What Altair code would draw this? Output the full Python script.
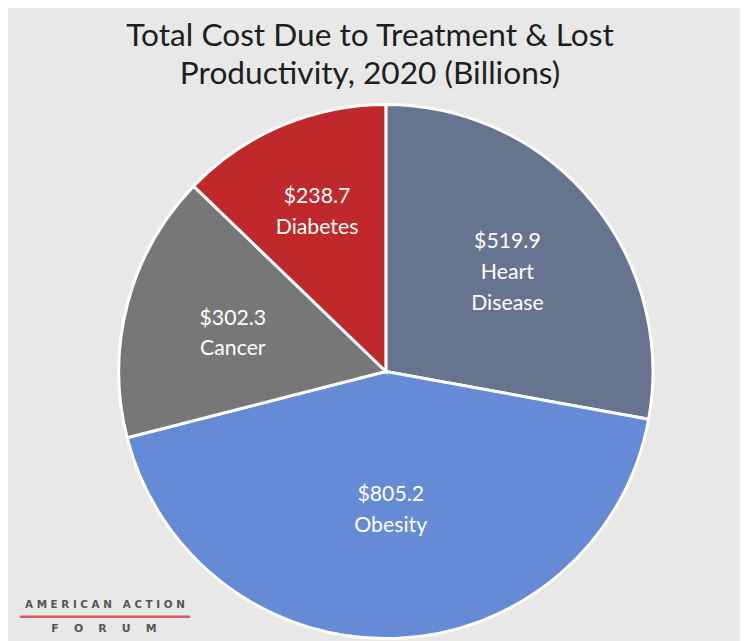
import altair as alt
import pandas as pd

categories = ["Heart Disease", "Obesity", "Cancer", "Diabetes"]
values = [519.9, 805.2, 302.3, 238.7]
label_names = ["Heart\nDisease", "Obesity", "Cancer", "Diabetes"]
colors = ["#67748f", "#658ad6", "#777777", "#c0292b"]
title_lines = ["Total Cost Due to Treatment & Lost", "Productivity, 2020 (Billions)"]

df = pd.DataFrame({
    "category": categories,
    "value": values,
    "name": label_names,
    "idx": list(range(len(categories))),
})

CX, CY, R = 382, 364, 270
LH = 31

pie = alt.Chart(df).mark_arc(outerRadius=R, stroke="white", strokeWidth=3).encode(
    theta=alt.Theta("value:Q", stack=True),
    order=alt.Order("idx:Q"),
    x=alt.value(CX),
    y=alt.value(CY),
    color=alt.Color("category:N", scale=alt.Scale(domain=categories, range=colors), legend=None),
)

labels = alt.Chart(df).transform_window(
    cum="sum(value)", sort=[alt.SortField("idx")], frame=[None, 0]
).transform_joinaggregate(
    total="sum(value)"
).transform_calculate(
    label="'$' + format(datum.value, '.1f') + '\\n' + datum.name",
    lr="datum.category === 'Obesity' ? 138 : (datum.category === 'Diabetes' ? 178 : 160)",
    ang="2 * PI * (datum.cum - datum.value / 2) / datum.total",
).transform_calculate(
    nlines="length(split(datum.label, '\\n'))",
).transform_calculate(
    lx=f"{CX} + datum.lr * sin(datum.ang)",
    ly=f"{CY} + 3 - datum.lr * cos(datum.ang) - (datum.nlines - 1) * {LH} / 2",
).mark_text(
    font="Lato", fontSize=21.5, color="white", lineBreak="\n", lineHeight=LH,
    align="center", baseline="middle",
).encode(
    x=alt.X("lx:Q", scale=None),
    y=alt.Y("ly:Q", scale=None),
    text="label:N",
)

one = pd.DataFrame({"a": [0]})

title = alt.Chart(one).mark_text(
    font="Lato", fontSize=32, color="#1e1e1e", lineHeight=38,
    align="center", baseline="top",
).encode(x=alt.value(366), y=alt.value(10), text=alt.value(title_lines))

nb = "\u00a0"
logo_top = alt.Chart(one).mark_text(
    font="DejaVu Sans", fontSize=10.5, fontWeight="bold", color="#555555", align="center", baseline="middle",
).encode(x=alt.value(98), y=alt.value(600),
         text=alt.value(nb.join("AMERICAN") + nb * 3 + nb.join("ACTION")))

logo_line = alt.Chart(one).mark_rule(color="#dc5a55", strokeWidth=2.5).encode(
    x=alt.value(12), x2=alt.value(184), y=alt.value(612)
)

logo_bottom = alt.Chart(one).mark_text(
    font="DejaVu Sans", fontSize=11, fontWeight="bold", color="#555555", align="center", baseline="middle",
).encode(x=alt.value(97), y=alt.value(624), text=alt.value((nb * 4).join("FORUM")))

chart = alt.layer(pie, labels, title, logo_top, logo_line, logo_bottom).properties(
    width=740, height=633,
    autosize=alt.AutoSizeParams(type="none"),
    padding=0,
    background="#e8e8e8",
).configure_view(stroke=None)

chart.save("out.html", embed_options={"renderer": "svg", "actions": False})
